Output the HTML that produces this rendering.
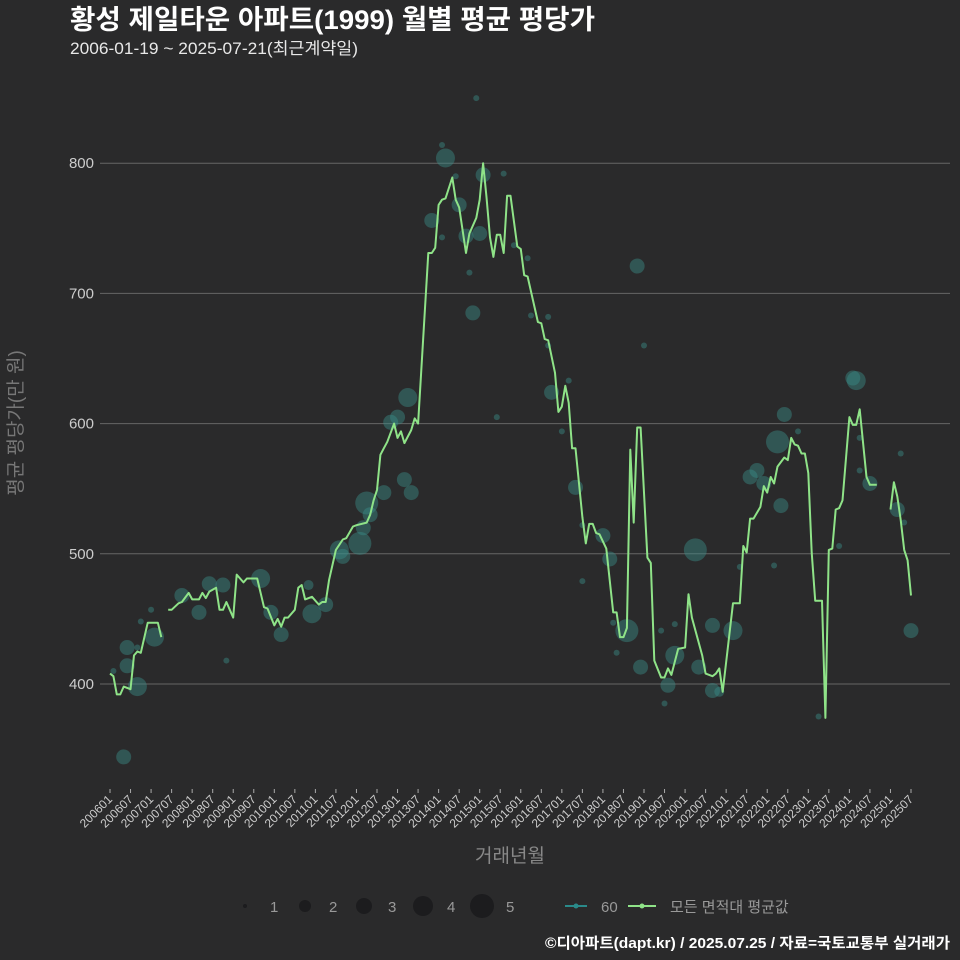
<!DOCTYPE html>
<html><head><meta charset="utf-8"><style>
html,body{margin:0;padding:0;background:#2a2a2b;}
svg{display:block;font-family:"Liberation Sans","Noto Sans CJK KR",sans-serif;}
</style></head><body>
<svg id="chart" width="960" height="960" viewBox="0 0 960 960">
<rect width="960" height="960" fill="#2a2a2b"/>
<text x="70" y="29" fill="#ffffff" font-size="27" font-weight="bold" textLength="525" lengthAdjust="spacingAndGlyphs">황성 제일타운 아파트(1999) 월별 평균 평당가</text>
<text x="70" y="54" fill="#e8e8e8" font-size="16.5" textLength="288" lengthAdjust="spacingAndGlyphs">2006-01-19 ~ 2025-07-21(최근계약일)</text>
<g id="grid"></g>
<g id="yticks"></g>
<g id="xticks"></g>
<g id="bubbles"></g>
<g id="line"></g>
<text transform="translate(22,423) rotate(-90)" text-anchor="middle" fill="#777" font-size="19">평균 평당가(만 원)</text>
<text x="510" y="862" text-anchor="middle" fill="#888" font-size="19">거래년월</text>
<g>
<circle cx="245" cy="906" r="2" fill="#1c1c1e"/>
<text x="270" y="912" fill="#999" font-size="15">1</text>
<circle cx="305" cy="906" r="6" fill="#1c1c1e"/>
<text x="329" y="912" fill="#999" font-size="15">2</text>
<circle cx="364" cy="906" r="8" fill="#1c1c1e"/>
<text x="388" y="912" fill="#999" font-size="15">3</text>
<circle cx="423" cy="906" r="10" fill="#1c1c1e"/>
<text x="447" y="912" fill="#999" font-size="15">4</text>
<circle cx="482" cy="906" r="12" fill="#1c1c1e"/>
<text x="506" y="912" fill="#999" font-size="15">5</text>
<line x1="565" y1="906" x2="587" y2="906" stroke="#2a8a8a" stroke-width="2"/>
<circle cx="576" cy="906" r="2.5" fill="#2a8a8a"/>
<text x="601" y="912" fill="#999" font-size="15">60</text>
<line x1="628" y1="906" x2="656" y2="906" stroke="#8fe388" stroke-width="2"/>
<circle cx="642" cy="906" r="2.5" fill="#8fe388"/>
<text x="670" y="912" fill="#999" font-size="15">모든 면적대 평균값</text>
</g>
<text x="950" y="948" text-anchor="end" fill="#ffffff" font-size="15" font-weight="bold" textLength="405" lengthAdjust="spacingAndGlyphs">©디아파트(dapt.kr) / 2025.07.25 / 자료=국토교통부 실거래가</text>
</svg>
<script>
const yTicks = [400, 500, 600, 700, 800];
const lineMonths = [0,1,2,3,4,6,7,8,9,11,14,15,null,17,18,20,21,23,24,26,27,28,29,31,32,33,34,35,36,37,39,40,43,45,46,48,49,50,51,52,54,55,56,57,59,61,62,63,64,66,68,69,71,72,75,76,77,78,79,80,81,83,84,85,86,88,89,90,93,94,95,96,97,98,100,101,102,104,105,107,108,109,110,111,112,113,114,115,116,117,119,120,121,122,125,126,127,128,130,131,132,133,134,135,136,138,139,140,141,142,143,145,147,148,149,150,151,152,153,154,155,157,158,159,161,162,163,164,166,168,169,170,173,174,176,177,178,179,182,184,185,186,187,188,190,191,192,193,194,195,197,198,199,200,201,202,203,204,205,206,208,209,210,211,212,213,214,216,217,218,219,221,222,224,null,228,229,230,231,232,233,234];
const lineValues = [408,406,392,392,398,396,422,425,424,447,447,436,null,457,457,462,463,470,465,465,470,466,471,474,457,457,463,457,451,484,478,481,481,459,458,445,450,444,451,451,457,474,476,465,467,461,463,463,480,503,511,512,521,522,524,530,541,549,576,581,586,600,589,594,585,595,604,600,731,731,735,768,772,773,789,772,766,731,746,758,772,800,774,743,728,745,745,731,775,775,736,734,714,713,678,677,665,664,639,609,613,629,616,581,581,528,508,523,523,516,515,504,455,455,436,436,443,580,524,597,597,497,493,418,405,405,412,407,427,428,469,451,422,408,406,408,412,394,462,462,506,501,527,527,536,552,547,559,554,567,574,572,589,584,583,577,577,562,501,464,464,374,503,504,534,535,541,605,599,599,611,559,553,553,null,534,555,544,526,503,495,468];
const bubbleMonths = [4,8,5,5,1,8,13,9,12,21,26,29,33,34,44,47,50,59,63,58,67,68,73,75,74,76,80,86,88,87,84,82,98,94,106,108,109,102,104,101,107,97,97,105,113,115,118,122,123,128,128,129,132,134,136,138,138,144,146,147,148,151,155,154,156,161,163,162,165,165,171,176,172,176,178,182,189,191,195,197,196,201,187,184,207,213,218,217,222,231,232,230,234,219,219,194];
const bubbleValues = [344,398,428,414,410,428,436,448,457,468,455,477,476,418,481,455,438,454,461,476,503,498,508,539,520,530,547,557,547,620,605,601,804,756,685,746,791,768,744,790,850,814,743,716,605,792,737,727,683,682,660,624,594,633,551,522,479,514,496,447,424,441,413,721,660,441,399,385,422,446,503,445,413,395,394,441,564,554,586,607,537,594,559,490,375,506,633,635,554,577,524,534,441,589,564,491];
const bubbleSizes = [3,4,3,3,1,1,4,1,1,3,3,3,3,1,4,3,3,4,3,2,4,3,5,5,3,3,3,3,3,4,3,3,4,3,3,3,3,3,3,1,1,1,1,1,1,1,1,1,1,1,1,3,1,1,3,1,1,3,3,1,1,5,3,3,1,1,3,1,4,1,5,3,3,3,2,4,3,3,5,3,3,1,3,1,1,1,4,3,3,1,1,3,3,1,1,1];
const xTickLabels = [];
for (let y = 2006; y <= 2025; y++) { xTickLabels.push(y + '01'); xTickLabels.push(y + '07'); }

const NS = 'http://www.w3.org/2000/svg';
const X0 = 110, X1 = 911, M_MAX = 234;
const xScale = m => X0 + (X1 - X0) * m / M_MAX;
const yScale = v => 684 - (v - 400) * 1.302;
const rScale = s => [0, 3, 5, 7.5, 9.5, 11.5][s];
function mk(tag, attrs, parent) {
  const el = document.createElementNS(NS, tag);
  for (const k in attrs) el.setAttribute(k, attrs[k]);
  parent.appendChild(el);
  return el;
}
const grid = document.getElementById('grid'), yt = document.getElementById('yticks');
yTicks.forEach(v => {
  const gl = mk('line', {x1: 100, x2: 950, y1: yScale(v), y2: yScale(v), stroke: '#666', 'stroke-width': 1}, grid);
  
  
  const t = mk('text', {x: 94, y: yScale(v) + 5, 'text-anchor': 'end', fill: '#ccc', 'font-size': 15}, yt);
  t.textContent = v;
  
  
});
const xt = document.getElementById('xticks');
xTickLabels.forEach((lab, i) => {
  const x = xScale(i * 6);
  const tk = mk('line', {x1: x, x2: x, y1: 789, y2: 793, stroke: '#aaa', 'stroke-width': 1}, xt);
  
  
  const t = mk('text', {transform: `translate(${x + 3},${800}) rotate(-45)`, 'text-anchor': 'end', fill: '#ccc', 'font-size': 12}, xt);
  t.textContent = lab;
  
  
});
const bg = document.getElementById('bubbles');
bubbleMonths.forEach((m, i) => {
  const c = mk('circle', {cx: xScale(m), cy: yScale(bubbleValues[i]), r: rScale(bubbleSizes[i]), fill: 'rgba(58,140,135,0.45)'}, bg);
  
  
});
const lg = document.getElementById('line');
let d = '', pen = false;
lineMonths.forEach((m, i) => {
  if (m === null || lineValues[i] === null) { pen = false; return; }
  d += (pen ? 'L' : 'M') + xScale(m).toFixed(1) + ',' + yScale(lineValues[i]).toFixed(1);
  pen = true;
});
const p = mk('path', {d: d, fill: 'none', stroke: '#8fe388', 'stroke-width': 2, 'stroke-linejoin': 'round'}, lg);


</script>
</body></html>
